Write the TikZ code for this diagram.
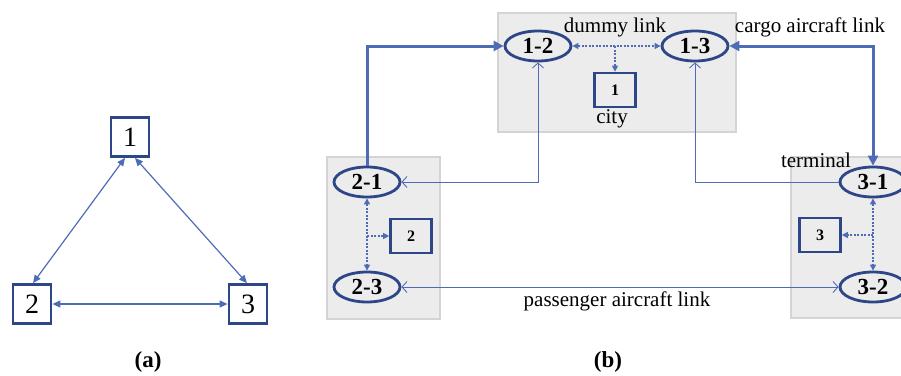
\documentclass[tikz,border=0pt]{standalone}
\usepackage{fontspec}
\setmainfont{Liberation Serif}
\usetikzlibrary{arrows.meta,shapes.geometric}
\definecolor{navy}{RGB}{45,70,135}
\definecolor{lblue}{RGB}{78,108,182}
\definecolor{gfill}{RGB}{236,236,236}
\definecolor{gline}{RGB}{212,212,212}
\begin{document}
\begin{tikzpicture}[x=1pt,y=-1pt,
  abox/.style={draw=navy, line width=2.8pt, minimum width=38pt, minimum height=39pt, inner sep=0pt, font=\fontsize{28}{28}\selectfont},
  cbox/.style={draw=navy, line width=2.6pt, minimum width=41pt, minimum height=34pt, inner sep=0pt, font=\bfseries\fontsize{16}{16}\selectfont},
  ell/.style={ellipse, draw=navy, line width=2.8pt, minimum width=66pt, minimum height=30pt, inner sep=0pt, font=\bfseries\fontsize{23}{23}\selectfont},
  lbl/.style={inner sep=0pt, font=\fontsize{21}{21}\selectfont},
  capt/.style={inner sep=0pt, font=\bfseries\fontsize{23}{23}\selectfont},
  aline/.style={draw=lblue, line width=1.2pt},
  atri/.tip={Triangle[length=8pt,width=7pt]},
  thickline/.style={draw=lblue, line width=3pt},
  ttri/.tip={Triangle[length=10pt,width=10pt]},
  thinline/.style={draw=lblue, line width=1pt},
  barb/.tip={Straight Barb[length=5pt,width=11pt,line width=0.9pt]},
  dotline/.style={draw=lblue, line width=1.1pt, dash pattern=on 2pt off 1.5pt},
  dtri/.tip={Triangle[length=6pt,width=6pt]},
  gbox/.style={fill=gfill, draw=gline, line width=1.5pt}
]
\useasboundingbox (0,0) rectangle (901,375);
\clip (0,0) rectangle (901,375);

% ---------- (a) ----------
\node[abox] (a1) at (130,137) {1};
\node[abox] (a2) at (32,304) {2};
\node[abox] (a3) at (248,304) {3};
\draw[aline, atri-atri] ([xshift=-5pt]a1.south) -- ([xshift=1pt]a2.north);
\draw[aline, atri-atri] ([xshift=5pt]a1.south) -- ([xshift=-1pt]a3.north);
\draw[aline, atri-atri] (a2) -- (a3);
\node[capt] (ta) at (148,362) {(a)};

% ---------- (b) ----------
\path[gbox] (498,13) rectangle (736,132);
\path[gbox] (327,157) rectangle (440,319);
\path[gbox] (791,157) rectangle (915,318);

\node[ell] (n12) at (538,46) {1-2};
\node[ell] (n13) at (695,46) {1-3};
\node[ell] (n21) at (367,182) {2-1};
\node[ell] (n23) at (367,287) {2-3};
\node[ell] (n31) at (873,182) {3-1};
\node[ell] (n32) at (873,287) {3-2};
\node[cbox] (c1) at (615,90) {1};
\node[cbox] (c2) at (411,236) {2};
\node[cbox] (c3) at (820,235) {3};

% thick cargo links
\draw[thickline, -ttri] (n21.north) |- (n12);
\draw[thickline, ttri-ttri] (n13) -| (n31);

% thin passenger links
\draw[thinline, barb-barb] (n12) |- (n21);
\draw[thinline, -barb] (n31) -| (n13);
\draw[thinline, barb-barb] (n23) -- (n32);

% dummy links
\draw[dotline, dtri-dtri] (n12) -- (n13);
\coordinate (d1) at (c1.north |- n12);
\draw[dotline, -dtri] (d1) -- (c1);
\draw[dotline, dtri-dtri] (n21) -- (n23);
\coordinate (d2) at (n21 |- c2);
\draw[dotline, -dtri] (d2) -- (c2);
\draw[dotline, dtri-dtri] (n31) -- (n32);
\coordinate (d3) at (n31 |- c3);
\draw[dotline, -dtri] (d3) -- (c3);

% labels
\node[lbl] (tdummy) at (615,27) {dummy link};
\node[lbl] (tcargo) at (810,27) {cargo aircraft link};
\node[lbl] (tcity) at (612,119) {city};
\node[lbl] (tterm) at (816,160) {terminal};
\node[lbl] (tpass) at (617,301) {passenger aircraft link};
\node[capt] (tb) at (608,362) {(b)};
\end{tikzpicture}
\end{document}
